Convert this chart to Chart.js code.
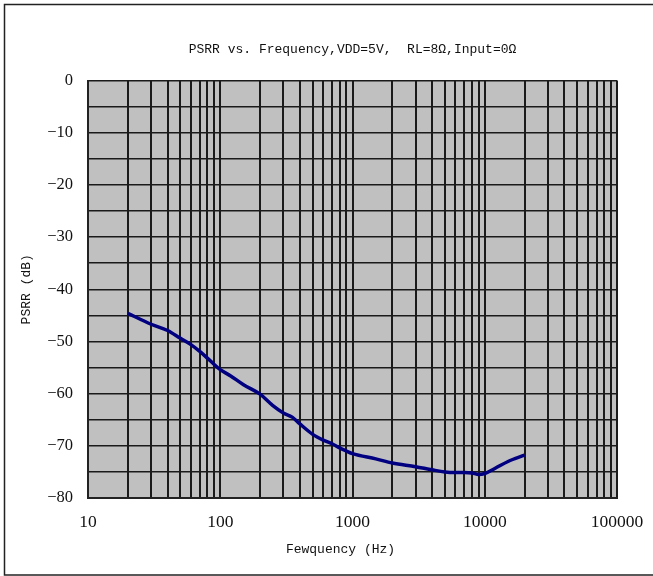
<!DOCTYPE html>
<html>
<head>
<meta charset="utf-8">
<script src="https://cdn.jsdelivr.net/npm/chart.js@4"></script>
<style>
  html, body { margin: 0; padding: 0; background: #fff; }
  #wrap { width: 653px; height: 576px; position: relative; }
</style>
</head>
<body>
<div id="wrap"><canvas id="c" width="653" height="576"></canvas></div>
<script>
// ---- data ----
const freqHz = [20, 30, 40, 50, 60, 70, 80, 90, 100, 120, 150, 200, 250, 300, 350, 400, 500, 600, 700, 800, 900, 1000, 1500, 2000, 3000, 4000, 5000, 6000, 7000, 8000, 9000, 10000, 12000, 15000, 20000];
const psrrDb = [-44.6, -46.7, -47.9, -49.4, -50.6, -51.9, -53.2, -54.4, -55.4, -56.6, -58.3, -60.1, -62.3, -63.7, -64.5, -65.8, -67.8, -68.9, -69.6, -70.4, -71.0, -71.5, -72.5, -73.3, -74.0, -74.6, -75.0, -75.1, -75.1, -75.2, -75.5, -75.3, -74.3, -73.0, -71.8];
const xDecades = [10, 100, 1000, 10000];
const xMultipliers = [1, 2, 3, 4, 5, 6, 7, 8, 9];
const xMax = 100000;
const yMin = -80, yMax = 0, yGridStep = 5, yLabelStep = 10;

const titleText = 'PSRR vs. Frequency,VDD=5V,  RL=8Ω,Input=0Ω';
const xTitle = 'Fewquency (Hz)';
const yTitle = 'PSRR (dB)';

const xTickValues = [];
xDecades.forEach(d => xMultipliers.forEach(m => xTickValues.push(d * m)));
xTickValues.push(xMax);

const points = freqHz.map((f, i) => ({ x: f, y: psrrDb[i] }));

const monoFont = "'Liberation Mono', 'DejaVu Sans Mono', monospace";
const serifFont = "'Liberation Serif', 'DejaVu Serif', serif";

const framePlugin = {
  id: 'frame',
  beforeDraw(chart) {
    const { ctx, chartArea: a } = chart;
    ctx.save();
    ctx.fillStyle = '#c0c0c0';
    ctx.fillRect(a.left, a.top, a.right - a.left, a.bottom - a.top);
    ctx.restore();
  },
  afterDraw(chart) {
    const { ctx, chartArea: a } = chart;
    ctx.save();
    ctx.strokeStyle = '#222';
    ctx.lineWidth = 1.5;
    ctx.strokeRect(4.5, 4.5, 660, 570.5);
    // x-axis title (sits slightly left of the plot centre in the reference)
    ctx.fillStyle = '#111';
    ctx.font = "13px " + monoFont;
    ctx.textAlign = 'center';
    ctx.textBaseline = 'middle';
    ctx.fillText(xTitle, (a.left + a.right) / 2 - 12, 550);
    ctx.restore();
  }
};

function isPow10(v) {
  const l = Math.log10(v);
  return Math.abs(l - Math.round(l)) < 1e-9;
}

new Chart(document.getElementById('c'), {
  type: 'line',
  data: {
    datasets: [{
      data: points,
      borderColor: '#000080',
      borderWidth: 3.5,
      pointRadius: 0,
      fill: false,
      cubicInterpolationMode: 'monotone'
    }]
  },
  options: {
    responsive: false,
    animation: false,
    devicePixelRatio: 1,
    layout: { padding: { left: 0, top: 0, right: 36, bottom: 0 } },
    plugins: {
      legend: { display: false },
      tooltip: { enabled: false },
      title: {
        display: true,
        fullSize: false,
        text: titleText,
        color: '#111',
        font: { family: monoFont, size: 13, weight: 'normal' },
        padding: { top: 42, bottom: 23 }
      }
    },
    scales: {
      x: {
        type: 'logarithmic',
        min: 10,
        max: xMax,
        afterBuildTicks(scale) {
          scale.ticks = xTickValues.map(v => ({ value: v, major: isPow10(v) }));
        },
        afterFit(scale) {
          scale.height = 78;
          scale.paddingLeft = 0;
          scale.paddingRight = 0;
        },
        ticks: {
          autoSkip: false,
          maxRotation: 0,
          color: '#111',
          padding: 14,
          font: { family: serifFont, size: 17.5 },
          callback(v) { return isPow10(v) ? String(v) : ''; }
        },
        grid: { color: '#1a1a1a', lineWidth: 2, drawTicks: false },
        border: { display: true, color: '#222', width: 2 },
        title: { display: false, text: xTitle }
      },
      y: {
        type: 'linear',
        min: yMin,
        max: yMax,
        afterFit(scale) {
          scale.width = 88;
          scale.paddingTop = 0;
          scale.paddingBottom = 0;
        },
        ticks: {
          stepSize: yGridStep,
          autoSkip: false,
          color: '#111',
          padding: 15,
          font: { family: serifFont, size: 16.5 },
          callback(v) {
            if (v % yLabelStep !== 0) return '';
            return v < 0 ? '\u2212' + (-v) : String(v);
          }
        },
        grid: { color: '#1a1a1a', lineWidth: 1.5, drawTicks: false },
        border: { display: true, color: '#222', width: 2 },
        title: {
          display: true,
          text: yTitle,
          color: '#111',
          font: { family: monoFont, size: 13 },
          padding: { top: 19, bottom: 0 }
        }
      }
    }
  },
  plugins: [framePlugin]
});
</script>
</body>
</html>
